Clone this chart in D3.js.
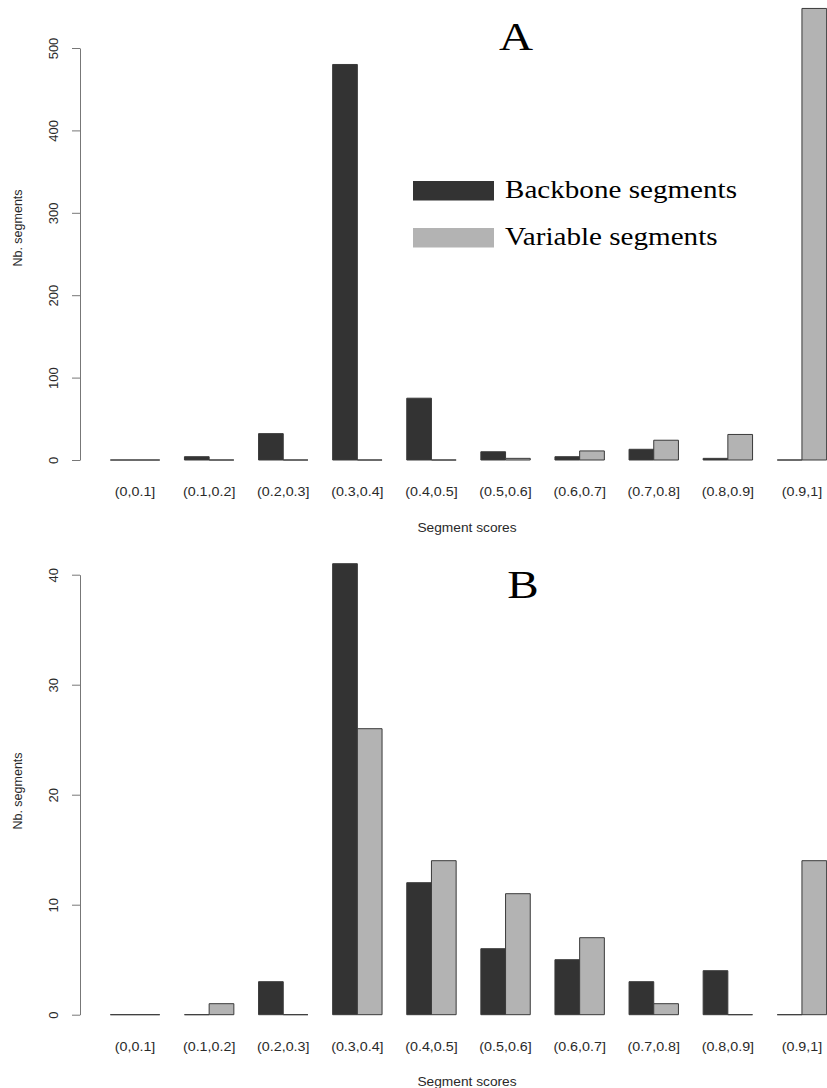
<!DOCTYPE html>
<html>
<head>
<meta charset="utf-8">
<script src="https://cdn.jsdelivr.net/npm/d3@7"></script>
<style>
  body { margin: 0; background: #fff; }
  svg { display: block; }
</style>
</head>
<body>
<div id="chart"></div>
<script>
// score bins
const categories = ['(0,0.1]', '(0.1,0.2]', '(0.2,0.3]', '(0.3,0.4]', '(0.4,0.5]',
                    '(0.5,0.6]', '(0.6,0.7]', '(0.7,0.8]', '(0.8,0.9]', '(0.9,1]'];
const seriesNames = ['Backbone segments', 'Variable segments'];

// panel A counts
const backboneA = [0, 4, 32, 480, 75, 10, 4, 13, 2, 0];
const variableA = [0, 0, 0, 0, 0, 2, 11, 24, 31, 548];
const ticksA = [0, 100, 200, 300, 400, 500];

// panel B counts
const backboneB = [0, 0, 3, 41, 12, 6, 5, 3, 4, 0];
const variableB = [0, 1, 0, 26, 14, 11, 7, 1, 0, 14];
const ticksB = [0, 10, 20, 30, 40];

let width = 827;
let height = 1088;
let sx = 1.1; // the original picture is a bit wider than tall

var fillColor = d3.scaleOrdinal().domain(seriesNames).range(['#333333', '#b3b3b3']);

var svg = d3.select('#chart').append('svg')
  .attr('width', width)
  .attr('height', height);

svg.append('rect').attr('width', width).attr('height', height).attr('fill', '#fff');

// group positions, same for both panels
var x = d3.scaleBand().domain(categories).range([98, 839]).paddingInner(1 / 3).paddingOuter(1 / 6);
var xInner = d3.scaleBand().domain(seriesNames).range([0, x.bandwidth()]);

function panel(opts){
  var y = d3.scaleLinear().domain(opts.domain).range(opts.range);
  var g = svg.append('g');
  var base = y(0);

  var rows = categories.map(function(c, i){
    return { cat: c, values: [
      { name: seriesNames[0], value: opts.backbone[i] },
      { name: seriesNames[1], value: opts.variable[i] }
    ]};
  });

  // bars drawn as paths so that zero counts still show the flat line
  g.selectAll('.grp')
    .data(rows)
    .enter().append('g')
      .attr('transform', function(d){ return 'translate(' + x(d.cat) + ',0)'; })
    .selectAll('path')
    .data(function(d){ return d.values; })
    .enter().append('path')
      .attr('d', function(d){
        var x0 = xInner(d.name), x1 = x0 + xInner.bandwidth();
        return 'M' + x0 + ',' + base + 'V' + y(d.value) + 'H' + x1 + 'V' + base + 'Z';
      })
      .attr('fill', function(d){ return fillColor(d.name); })
      .attr('stroke', '#3a3a3a')
      .attr('stroke-width', 1);

  // y axis
  var yAxis = g.append('g')
    .attr('transform', 'translate(80,0)')
    .call(d3.axisLeft(y).tickValues(opts.ticks).tickSize(8).tickSizeOuter(0));
  yAxis.select('.domain').attr('stroke', '#777');
  yAxis.selectAll('line').attr('stroke', '#777');
  yAxis.selectAll('text')
    .attr('x', null).attr('dy', null)
    .attr('transform', 'translate(-22.5,0) rotate(-90)')
    .attr('text-anchor', 'middle')
    .attr('fill', '#2a2a2a')
    .style('font', '13px "Liberation Sans", Arial, sans-serif');

  // x labels
  var xAxis = g.append('g')
    .attr('transform', 'translate(0,' + base + ')')
    .call(d3.axisBottom(x).tickSize(0));
  xAxis.select('.domain').remove();
  xAxis.selectAll('text')
    .attr('y', 36.5).attr('dy', null)
    .attr('transform', 'scale(' + sx + ',1)')
    .attr('fill', '#2a2a2a')
    .style('font', '13px "Liberation Sans", Arial, sans-serif');

  // titles
  g.append('text')
    .attr('transform', 'translate(' + 467 + ',' + (base + 71.5) + ') scale(' + sx + ',1)')
    .attr('text-anchor', 'middle')
    .attr('fill', '#2a2a2a')
    .style('font', '12.5px "Liberation Sans", Arial, sans-serif')
    .text('Segment scores');

  g.append('text')
    .attr('transform', 'translate(22,' + opts.ytitle + ') rotate(-90)')
    .attr('text-anchor', 'middle')
    .attr('fill', '#2a2a2a')
    .style('font', '12.5px "Liberation Sans", Arial, sans-serif')
    .text('Nb. segments');

  g.append('text')
    .attr('transform', 'translate(' + opts.letter[0] + ',' + opts.letter[1] + ') scale(1.15,1)')
    .attr('text-anchor', 'middle')
    .attr('fill', '#000')
    .style('font', '41px "Liberation Serif", "Times New Roman", serif')
    .text(opts.name);

  return g;
}

panel({ name: 'A', backbone: backboneA, variable: variableA, ticks: ticksA,
        domain: [0, 500], range: [460, 48], ytitle: 228, letter: [516, 50] });
panel({ name: 'B', backbone: backboneB, variable: variableB, ticks: ticksB,
        domain: [0, 40], range: [1014.7, 574.7], ytitle: 791, letter: [523, 598] });

// legend (panel A only)
var legend = svg.append('g').attr('transform', 'translate(413,181)');
var li = legend.selectAll('g')
  .data(seriesNames)
  .enter().append('g')
    .attr('transform', function(d, i){ return 'translate(0,' + (i * 47) + ')'; });
li.append('rect')
  .attr('width', 81).attr('height', 19.5)
  .attr('fill', function(d){ return fillColor(d); });
li.append('text')
  .attr('transform', 'translate(92,16.5) scale(1.12,1)')
  .attr('fill', '#000')
  .style('font', '26px "Liberation Serif", "Times New Roman", serif')
  .text(function(d){ return d; });
</script>
</body>
</html>
